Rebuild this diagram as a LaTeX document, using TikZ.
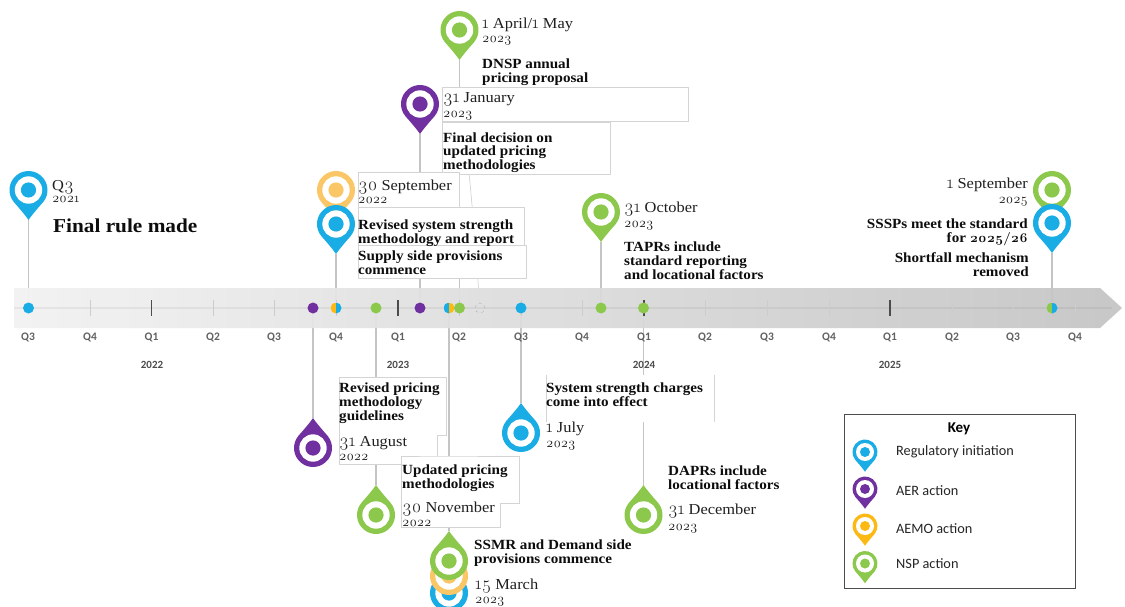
\documentclass[tikz,border=0pt]{standalone}
\usepackage{fontspec}
\setmainfont[FakeStretch=1.08]{Liberation Serif}
\newfontfamily\keyfont{Carlito}
\newfontfamily\lmos[Numbers=OldStyle,Scale=1.2]{Latin Modern Roman}
\newcommand\os[1]{{\lmos #1}}
\definecolor{cblue}{HTML}{1AACE4}
\definecolor{cpurple}{HTML}{7030A0}
\definecolor{cyellow}{HTML}{FDB913}
\definecolor{cpale}{HTML}{FBC766}
\definecolor{cgreen}{HTML}{8CC84B}
\pgfdeclarelayer{conn}\pgfdeclarelayer{band}\pgfdeclarelayer{boxes}
\pgfsetlayers{conn,band,boxes,main}
\newcommand\pin[6]{%
  \begin{scope}[shift={(#2,#3)},x=1pt,y=1pt,rotate=#6]
    \fill[#5] (0,{-1.58*#4}) .. controls ({.2*#4},{-1.28*#4}) and ({.56*#4},{-.88*#4}) .. (-39.3:#4)
      arc[start angle=-39.3,end angle=219.3,radius=#4]
      .. controls ({-.56*#4},{-.88*#4}) and ({-.2*#4},{-1.28*#4}) .. (0,{-1.58*#4}) -- cycle;
    \fill[white] (0,0) circle[radius=0.72*#4];
    \node[circle,fill=#5,inner sep=0pt,minimum size={0.8*#4 pt}] (#1) at (0,0) {};
    \coordinate (#1-tip) at (0,{-1.58*#4});
  \end{scope}}
\tikzset{
  conline/.style={draw=black!23,line width=1.1pt},
  tbox/.style={draw=black!17,line width=.45pt,fill=white},
  dotn/.style={circle,fill=#1,inner sep=0pt,minimum size=11pt},
  halfdot/.style 2 args={circle,inner sep=0pt,minimum size=11pt,path picture={
    \fill[#1] (path picture bounding box.south west) rectangle (path picture bounding box.north);
    \fill[#2] (path picture bounding box.south) rectangle (path picture bounding box.north east);}},
  qlab/.style={font=\keyfont\bfseries\fontsize{11.5}{11.5}\selectfont,text=black!62,inner sep=0pt},
  ylab/.style={font=\keyfont\bfseries\fontsize{11}{11}\selectfont,text=black!70,inner sep=0pt},
  klab/.style={font=\keyfont\fontsize{14.3}{14.3}\selectfont,text=black!85,anchor=west,inner sep=0pt},
  datel/.style={font=\fontsize{15.2}{15.2}\selectfont,text=black!88,anchor=base west,inner sep=0pt,yshift=-1pt},
  yearl/.style={font=\fontsize{11.2}{11.2}\selectfont,text=black!88,anchor=base west,inner sep=0pt},
  headl/.style={font=\bfseries\fontsize{14}{13.6}\selectfont,text=black!95,anchor=base west,inner sep=0pt,align=left,yshift=-1pt},
  dater/.style={datel,anchor=base east},
  yearr/.style={yearl,anchor=base east},
  headr/.style={headl,anchor=base east,align=right},
}
\begin{document}
\begin{tikzpicture}[x=1pt,y=-1pt]
\clip (0,0) rectangle (1125,607);
\begin{pgfonlayer}{conn}
\fill[white] (0,0) rectangle (1125,607);
\end{pgfonlayer}
% band
\begin{pgfonlayer}{band}
\shade[left color=white!95!black,right color=black!23,opacity=.94]
  (14,288) -- (1100,288) -- (1122,308) -- (1100,328) -- (14,328) -- cycle;
\draw[black,opacity=.05,line width=1.3pt] (14,308) -- (1112,308);
\foreach \x in {90,213,274,336,459,521,582,705,767,829,952,1013,1075}
  \draw[black!20,line width=.5pt] (\x,300) -- (\x,316);
\foreach \x in {151.5,398,644,890}
  \draw[black!70,line width=1.1pt] (\x,300) -- (\x,316);
\end{pgfonlayer}
% quarter labels
\foreach \x/\t [count=\i] in {28/Q3,90/Q4,151.5/Q1,213/Q2,274/Q3,336/Q4,398/Q1,459/Q2,521/Q3,582/Q4,644/Q1,705/Q2,767/Q3,829/Q4,890/Q1,952/Q2,1013/Q3,1075/Q4}
  \node[qlab] (q\i) at (\x,337.5) {\t};
\node[ylab] (y22) at (152,365) {2022};
\node[ylab] (y23) at (398,365) {2023};
\node[ylab] (y24) at (644,365) {2024};
\node[ylab] (y25) at (890,365) {2025};
% dots
\node[dotn=cblue] (d1) at (28.5,308) {};
\node[dotn=cpurple] (d2) at (313,308) {};
\node[halfdot={cyellow}{cblue}] (d3) at (336,308) {};
\node[dotn=cgreen] (d4) at (376,308) {};
\node[dotn=cpurple] (d5) at (420,308) {};
\node[halfdot={cblue}{cyellow}] (d6) at (449,308) {};
\node[dotn=cgreen] (d7) at (459.5,308) {};
\node[circle,draw=black!30,dashed,line width=.4pt,inner sep=0pt,minimum size=10pt] (d8) at (480,308) {};
\node[dotn=cblue] (d9) at (521,308) {};
\node[dotn=cgreen] (d10) at (601,308) {};
\node[dotn=cgreen] (d11) at (643.5,308) {};
\node[halfdot={cgreen}{cblue}] (d12) at (1052,308) {};
% pins above
\pin{pA}{28.5}{190}{19}{cblue}{0}
\pin{pB}{336}{190}{19}{cpale}{0}
\pin{pC}{336}{224}{19}{cblue}{0}
\pin{pD}{420}{104}{19}{cpurple}{0}
\pin{pE}{459.5}{30}{19}{cgreen}{0}
\pin{pF}{601}{212}{19}{cgreen}{0}
\pin{pG}{1052}{190}{19}{cgreen}{0}
\pin{pH}{1052}{223}{19}{cblue}{0}
% pins below
\pin{pI}{313}{448}{19}{cpurple}{180}
\pin{pJ}{376}{515}{19}{cgreen}{180}
\pin{pK}{521}{433}{19}{cblue}{180}
\pin{pL}{643.5}{515}{19}{cgreen}{180}
\pin{pM}{449}{593}{19}{cblue}{180}
\pin{pN}{449}{576}{19}{cpale}{180}
\pin{pO}{449}{561}{19}{cgreen}{180}
% connectors
\begin{pgfonlayer}{conn}
\draw[conline] (pA-tip) -- (d1);
\draw[conline] (pC-tip) -- (d3);
\draw[conline] (pD-tip) -- (d5);
\draw[conline] (pE-tip) -- (d7);
\draw[conline] (pF-tip) -- (d10);
\draw[conline] (pH-tip) -- (d12);
\draw[conline] (pI-tip) -- (d2);
\draw[conline] (pJ-tip) -- (d4);
\draw[conline] (pK-tip) -- (d9);
\draw[conline] (pL-tip) -- (d11);
\draw[conline] (pO-tip) -- (d6);
\coordinate (cv) at (468,165);
\draw[black!22,line width=.5pt] (cv) .. controls (471,190) and (473,215) .. (d8);
\end{pgfonlayer}
% white text boxes
\begin{pgfonlayer}{boxes}
\path[tbox] (442,87) rectangle (688,121);
\path[tbox] (442,122) rectangle (610,174);
\path[tbox] (358,172) rectangle (459,207);
\path[tbox] (358,207) rectangle (524,245);
\path[tbox] (358,245) rectangle (526,278);
\path[tbox] (339,377) -- (446,377) -- (446,435) -- (437,435) -- (437,456) -- (401,456) -- (401,464) -- (339,464) -- cycle;
\path[tbox] (437,456) -- (519,456) -- (519,503) -- (500,503) -- (500,527) -- (401,527) -- (401,456) -- cycle;
\fill[white] (546,375) rectangle (714,422);
\draw[black!17,line width=.45pt] (546,375) -- (546,422);
\draw[black!17,line width=.45pt] (714,375) -- (714,422);
\end{pgfonlayer}
% texts
\node[datel] (tA1) at (52,189) {Q\os{3}};
\node[yearl] (tA2) at (52,203) {\os{2021}};
\node[headl,font=\bfseries\fontsize{19.7}{20}\selectfont] (tA3) at (53,231) {Final rule made};
\node[datel] (tE1) at (482,28) {\os{1} April/\os{1} May};
\node[yearl] (tE2) at (482,43) {\os{2023}};
\node[headl] (tE3) at (482,81.5) {DNSP annual\\pricing proposal};
\node[datel] (tD1) at (443,102) {\os{31} January};
\node[yearl] (tD2) at (443,118) {\os{2023}};
\node[headl] (tD3) at (443,168.5) {Final decision on\\updated pricing\\methodologies};
\node[datel] (tC1) at (358,189) {\os{30} September};
\node[yearl] (tC2) at (358,204) {\os{2022}};
\node[headl] (tC3) at (358,242) {Revised system strength\\methodology and report};
\node[headl] (tC4) at (358,273) {Supply side provisions\\commence};
\node[datel] (tF1) at (624,211) {\os{31} October};
\node[yearl] (tF2) at (624,227) {\os{2023}};
\node[headl] (tF3) at (624,278) {TAPRs include\\standard reporting\\and locational factors};
\node[dater] (tG1) at (1028,188) {\os{1} September};
\node[yearr] (tG2) at (1028,204) {\os{2025}};
\node[headr] (tG3) at (1028,241) {SSSPs meet the standard\\for {\lmos\bfseries\fontsize{11.2}{13.6}\selectfont 2025/26}};
\node[headr] (tG4) at (1029,275) {Shortfall mechanism\\removed};
\node[headl] (tI1) at (339,419) {Revised pricing\\methodology\\guidelines};
\node[datel] (tI2) at (339,445) {\os{31} August};
\node[yearl] (tI3) at (339,460) {\os{2022}};
\node[headl] (tJ1) at (402,487) {Updated pricing\\methodologies};
\node[datel] (tJ2) at (402,511) {\os{30} November};
\node[yearl] (tJ3) at (402,526) {\os{2022}};
\node[headl] (tO1) at (474,562) {SSMR and Demand side\\provisions commence};
\node[datel] (tO2) at (475,588) {\os{15} March};
\node[yearl] (tO3) at (475,603) {\os{2023}};
\node[headl] (tK1) at (546,405) {System strength charges\\come into effect};
\node[datel] (tK2) at (546,431) {\os{1} July};
\node[yearl] (tK3) at (546,447) {\os{2023}};
\node[headl] (tL1) at (668,488) {DAPRs include\\locational factors};
\node[datel] (tL2) at (668,513) {\os{31} December};
\node[yearl] (tL3) at (668,530) {\os{2023}};
% key
\node[draw=black!70,line width=1pt,fill=white,inner sep=0pt,minimum width=231pt,minimum height=174pt,anchor=north west] (key) at (843.5,413.5) {};
\node[font=\keyfont\bfseries\fontsize{15}{15}\selectfont,inner sep=0pt] (keyt) at (959,429) {Key};
\pin{kA}{865}{452}{12.5}{cblue}{0}
\pin{kB}{865}{489}{12.5}{cpurple}{0}
\pin{kC}{865}{526}{12.5}{cyellow}{0}
\pin{kD}{865}{563.5}{12.5}{cgreen}{0}
\node[klab] (kAt) at (896,452) {Regulatory initiation};
\node[klab] (kBt) at (896,491) {AER action};
\node[klab] (kCt) at (896,529) {AEMO action};
\node[klab] (kDt) at (896,564) {NSP action};
\end{tikzpicture}
\end{document}
